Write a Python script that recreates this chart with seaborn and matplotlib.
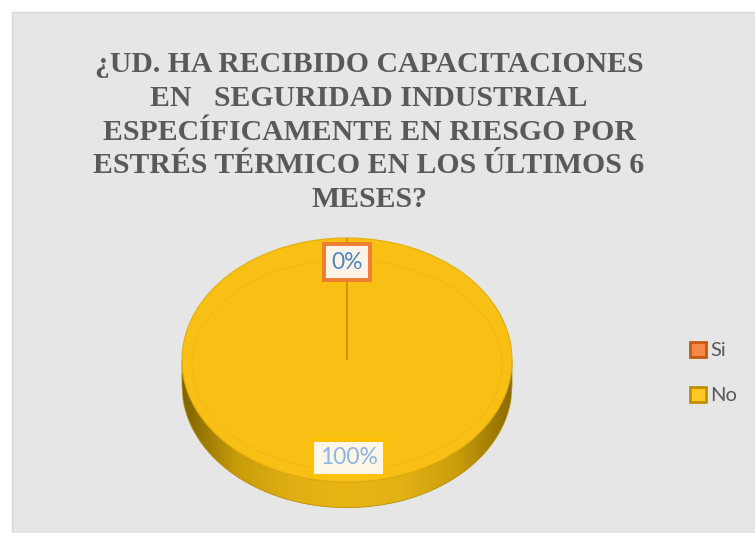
import numpy as np
import matplotlib
matplotlib.use("Agg")
import matplotlib.pyplot as plt
import seaborn as sns
from matplotlib.patches import Rectangle, Patch, Polygon, Ellipse
from matplotlib.colors import LinearSegmentedColormap

categories = ["Si", "No"]
values = [0, 100]
pct_labels = ["0%", "100%"]
title = ("¿UD. HA RECIBIDO CAPACITACIONES\n"
         "EN   SEGURIDAD INDUSTRIAL\n"
         "ESPECÍFICAMENTE EN RIESGO POR\n"
         "ESTRÉS TÉRMICO EN LOS ÚLTIMOS 6\n"
         "MESES?")

sns.set_theme(style="white")
plt.rcParams['font.family'] = ['Lato', 'DejaVu Sans']

slice_colors = ["#ED7D31", "#F8BF15"]
slice_edges = ["#DD8A12", "#E3AE0C"]

fig = plt.figure(figsize=(7.55, 5.33), dpi=100)
fig.patch.set_facecolor("white")
fig.patches.append(Rectangle((12/755, 0), 1, (533-12)/533, transform=fig.transFigure,
                             facecolor="#E7E6E6", edgecolor="#D9D9D9", lw=1, zorder=-10))

# pie axes: center (347,360) px, rx=165, ry=122
rx, ry = 165, 122
cx, cy = 347, 533 - 360
xl = (-1.05, 1.05)
yl = (-1.30, 1.05)
left = (cx + xl[0]*rx) / 755
bottom = (cy + yl[0]*ry) / 533
width = (xl[1]-xl[0])*rx / 755
height = (yl[1]-yl[0])*ry / 533
ax = fig.add_axes([left, bottom, width, height])
ax.patch.set_alpha(0)
ax.set_zorder(1)

d = 0.21
# side of the 3D pie
xs = np.linspace(-1, 1, 300)
top_curve = -np.sqrt(1 - xs**2)
poly = np.concatenate([np.column_stack([xs, top_curve]),
                       np.column_stack([xs[::-1], top_curve[::-1] - d])])
side = Polygon(poly, closed=True, facecolor="none", edgecolor="#B88F05", lw=0.6, zorder=1.5)
ax.add_patch(side)
cmap = LinearSegmentedColormap.from_list(
    "side", ["#7F6200", "#C99D0A", "#E1AF13", "#E8B514", "#E3B114", "#C99D0A", "#8A6A00"])
grad = np.linspace(0, 1, 256).reshape(1, -1)
im = ax.imshow(grad, extent=(-1, 1, -1 - d, 0), cmap=cmap, aspect="auto", zorder=1)
im.set_clip_path(side)

wedges, _ = ax.pie(values, colors=slice_colors, startangle=90, counterclock=False,
                   radius=1, center=(0, 0),
                   wedgeprops=dict(linewidth=0.8))
for w, ec in zip(wedges, slice_edges):
    w.set_edgecolor(ec)
    w.set_zorder(2)
wedges[0].set_linewidth(1.3)
wedges[0].set_zorder(3)

ax.add_patch(Ellipse((0, -0.04), 2*0.94, 2*0.86, facecolor="none",
                     edgecolor="#EDB818", lw=0.7, zorder=2.5))

ax.set_aspect("auto")
ax.set_xlim(*xl)
ax.set_ylim(*yl)
ax.axis("off")

# data labels
ax.text(0, 0.80, pct_labels[0], ha="center", va="center", fontsize=16.5, color="#4A86C5",
        zorder=5, bbox=dict(boxstyle="square,pad=0.33", facecolor="#FDF3E6",
                            edgecolor="#ED7D31", lw=2.8))
ax.text(0.01, -0.80, pct_labels[1], ha="center", va="center", fontsize=16.5, color="#8EB4E3",
        zorder=5, bbox=dict(boxstyle="square,pad=0.33", facecolor="#FBF6E8",
                            edgecolor="#FFC000", lw=2.8))

# title
fig.text(369/755, 1 - 132/533, title, ha="center", va="center", fontsize=21.4,
         fontweight="bold", color="#595959", family=["Liberation Serif", "DejaVu Serif"],
         linespacing=1.33)

# legend
handles = [Patch(facecolor="#F4874A", edgecolor="#C55A11", lw=2),
           Patch(facecolor="#FFC823", edgecolor="#BF9000", lw=2)]
fig.legend(handles, categories, loc="center left", bbox_to_anchor=(680/755, 1 - 373/533),
           frameon=False, fontsize=14.5, labelcolor="#595959", handlelength=0.8,
           handleheight=0.8, handletextpad=0.2, labelspacing=1.35, borderpad=0)

fig.savefig("out.png", dpi=100, facecolor=fig.get_facecolor())
